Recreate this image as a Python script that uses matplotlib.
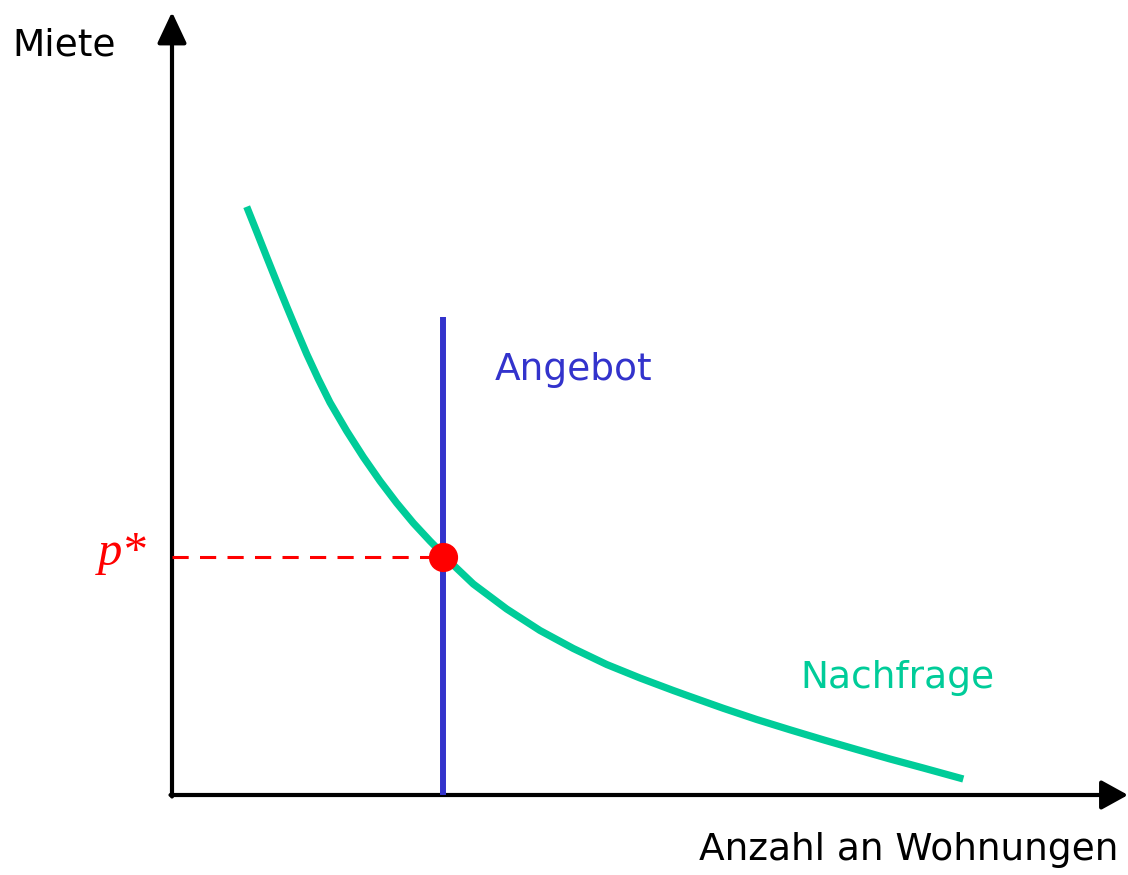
import matplotlib
matplotlib.use("Agg")
import matplotlib.pyplot as plt

# Demand curve points (data units)
demand_x = [0.747, 0.847, 0.947, 1.047, 1.147, 1.247, 1.347, 1.463, 1.58, 1.747, 1.913, 2.08,
            2.247, 2.413, 2.58, 2.713, 2.813, 3.013, 3.347, 3.68, 4.013, 4.347, 4.68, 5.013,
            5.18, 5.513, 5.847, 6.18, 6.513, 6.847, 7.18, 7.513, 7.913]
demand_y = [5.883, 5.633, 5.38, 5.13, 4.885, 4.645, 4.41, 4.16, 3.925, 3.64, 3.38, 3.14,
            2.92, 2.72, 2.54, 2.405, 2.30, 2.11, 1.86, 1.645, 1.465, 1.305, 1.17, 1.045,
            0.985, 0.867, 0.755, 0.652, 0.552, 0.455, 0.36, 0.27, 0.16]

supply_x = 2.71
supply_top = 4.78
p_star = 2.38
x_max = 9.56
y_max = 7.83

green = "#00CC99"
blue = "#3333CC"
red = "#FF0000"

fig = plt.figure(figsize=(11.28, 8.75), dpi=100)
ax = fig.add_axes([0, 0, 1, 1])
ax.set_xlim(-1.72, 9.56)
ax.set_ylim(-0.80, 7.95)
ax.axis("off")

# Axes with arrows
ax.annotate("", xy=(0, y_max), xytext=(0, -0.015),
            arrowprops=dict(arrowstyle="-|>,head_length=0.68,head_width=0.32", lw=3, color="black",
                            shrinkA=0, shrinkB=0, mutation_scale=28))
ax.annotate("", xy=(x_max, 0), xytext=(-0.015, 0),
            arrowprops=dict(arrowstyle="-|>,head_length=0.58,head_width=0.32", lw=3, color="black",
                            shrinkA=0, shrinkB=0, mutation_scale=28))

# Demand
ax.plot(demand_x, demand_y, color=green, lw=5.2, solid_capstyle="butt",
        solid_joinstyle="round", zorder=3)
# Supply
ax.plot([supply_x, supply_x], [0, supply_top], color=blue, lw=4.3, solid_capstyle="butt", zorder=4)
# Dashed price line
ax.plot([0, supply_x], [p_star, p_star], color=red, lw=2.2, dashes=(5.3, 3.7), zorder=4)
# Equilibrium point
ax.plot([supply_x], [p_star], "o", color=red, markersize=20, zorder=5)

font = "DejaVu Sans"
ax.text(-1.60, 7.50, "Miete", fontsize=27, family=font, ha="left", va="center")
ax.text(9.46, -0.55, "Anzahl an Wohnungen", fontsize=27, family=font, ha="right", va="center")
ax.text(3.23, 4.25, "Angebot", fontsize=27, family=font, color=blue, ha="left", va="center")
ax.text(6.28, 1.17, "Nachfrage", fontsize=27, family=font, color=green, ha="left", va="center")
ax.text(-0.50, 2.42, "p*", fontsize=35, family="Liberation Serif", style="italic", color=red,
        ha="center", va="center")

fig.savefig("out.png", dpi=100)
